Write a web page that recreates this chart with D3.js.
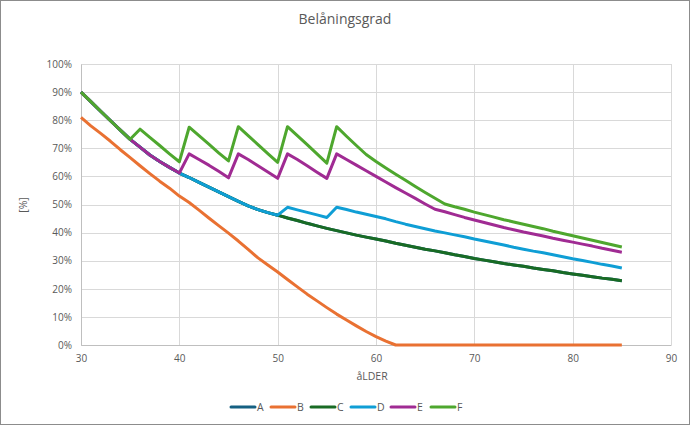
<!DOCTYPE html>
<html>
<head>
<meta charset="utf-8">
<script src="https://cdn.jsdelivr.net/npm/d3@7"></script>
<style>
  body { margin: 0; background: #fff; }
  text { font-family: "Open Sans", "Liberation Sans", sans-serif; fill: #595959; }
</style>
</head>
<body>
<div id="chart"></div>
<script>
// ages 30..85
var ages = d3.range(30, 86);
var xTicks = [30, 40, 50, 60, 70, 80, 90];
var yTicks = [0, 10, 20, 30, 40, 50, 60, 70, 80, 90, 100];
var seriesNames = ["A", "B", "C", "D", "E", "F"];
var colors = ["#156082", "#e97132", "#196b24", "#0f9ed5", "#a02b93", "#4ea72e"];

var seriesA = [90, 86.6, 83.2, 79.8, 76.5, 73.2, 70.4, 67.6, 65.3, 63.2,
  61.2, 59.6, 57.9, 56.2, 54.5, 52.8, 51.1, 49.5, 48.2, 47.1,
  46.2, 45.2, 44.3, 43.3, 42.4, 41.5, 40.7, 39.9, 39.1, 38.4,
  37.7, 37, 36.2, 35.5, 34.8, 34.1, 33.5, 32.8, 32.1, 31.5,
  30.8, 30.2, 29.6, 29, 28.5, 28, 27.4, 26.9, 26.4, 25.8,
  25.3, 24.8, 24.3, 23.8, 23.4, 22.9];
var seriesB = [81, 78, 75.3, 72.5, 69.5, 66.7, 63.8, 61, 58.3, 55.8,
  53, 50.7, 48, 45.2, 42.5, 39.8, 37, 34, 31, 28.5,
  26, 23.3, 20.7, 18.1, 15.7, 13.3, 11, 8.9, 6.8, 4.8,
  3, 1.4, 0, 0, 0, 0, 0, 0, 0, 0,
  0, 0, 0, 0, 0, 0, 0, 0, 0, 0,
  0, 0, 0, 0, 0, 0];
var seriesC = [90, 86.6, 83.2, 79.8, 76.5, 73.2, 70.4, 67.6, 65.3, 63.2,
  61.2, 59.6, 57.9, 56.2, 54.5, 52.8, 51.1, 49.5, 48.2, 47.1,
  46.2, 45.2, 44.3, 43.3, 42.4, 41.5, 40.7, 39.9, 39.1, 38.4,
  37.7, 37, 36.2, 35.5, 34.8, 34.1, 33.5, 32.8, 32.1, 31.5,
  30.8, 30.2, 29.6, 29, 28.5, 28, 27.4, 26.9, 26.4, 25.8,
  25.3, 24.8, 24.3, 23.8, 23.4, 22.9];
var seriesD = [90, 86.6, 83.2, 79.8, 76.5, 73.2, 70.4, 67.6, 65.3, 63.2,
  61.2, 59.6, 57.9, 56.2, 54.5, 52.8, 51.1, 49.5, 48.2, 47.1,
  46.2, 49, 48.1, 47.2, 46.3, 45.4, 49, 48.2, 47.3, 46.5,
  45.7, 44.9, 43.9, 43, 42.2, 41.4, 40.6, 39.9, 39.2, 38.5,
  37.7, 37, 36.3, 35.6, 34.8, 34.1, 33.4, 32.8, 32.1, 31.4,
  30.7, 30.1, 29.4, 28.7, 28.1, 27.4];
var seriesE = [90, 86.6, 83.2, 79.8, 76.5, 73.2, 70.4, 67.6, 65.3, 63.2,
  61.2, 68, 66, 64, 61.8, 59.5, 68, 66, 63.8, 61.6,
  59.3, 68, 66, 63.8, 61.5, 59.3, 68, 66, 64, 62,
  60, 58, 56, 54.1, 52.2, 50.2, 48.3, 47.4, 46.4, 45.4,
  44.5, 43.6, 42.7, 41.8, 41, 40.2, 39.5, 38.8, 38, 37.3,
  36.6, 35.9, 35.2, 34.4, 33.7, 33];
var seriesF = [90, 86.6, 83.2, 79.8, 76.5, 73.2, 76.8, 73.9, 71, 68,
  65.2, 77.5, 74.5, 71.5, 68.4, 65.5, 77.7, 74.5, 71.3, 68.1,
  65, 77.7, 74.5, 71.3, 68, 64.7, 77.7, 74.3, 71, 67.8,
  65.3, 63, 60.8, 58.6, 56.4, 54.3, 52.2, 50.2, 49.2, 48.3,
  47.3, 46.4, 45.5, 44.6, 43.8, 43, 42.2, 41.4, 40.5, 39.7,
  38.9, 38.1, 37.3, 36.5, 35.7, 34.9];

var allSeries = [seriesA, seriesB, seriesC, seriesD, seriesE, seriesF];

var width = 690, height = 425;
var margin = {top: 64, right: 19, bottom: 80, left: 81};
var plotW = width - margin.left - margin.right,
    plotH = height - margin.top - margin.bottom;

var svg = d3.select("#chart").append("svg")
    .attr("width", width)
    .attr("height", height);

svg.append("rect")
    .attr("x", 0.5).attr("y", 0.5)
    .attr("width", width - 1).attr("height", height - 1)
    .attr("fill", "#fff")
    .attr("stroke", "#8c8c8c");

svg.append("text")
    .attr("x", 345).attr("y", 24)
    .attr("text-anchor", "middle")
    .style("font-size", "14px")
    .text("Belåningsgrad");

var g = svg.append("g")
    .attr("transform", "translate(" + margin.left + "," + margin.top + ")");

// Scales
var x = d3.scaleLinear().domain([30, 90]).range([0, plotW]);
var y = d3.scaleLinear().domain([0, 100]).range([plotH, 0]);

// grid
g.selectAll(".hgrid").data(yTicks).enter().append("line")
    .attr("class", "hgrid")
    .attr("x1", 0).attr("x2", plotW)
    .attr("y1", d => Math.round(y(d)) + 0.5).attr("y2", d => Math.round(y(d)) + 0.5)
    .attr("stroke", "#d9d9d9");

g.selectAll(".vgrid").data(xTicks).enter().append("line")
    .attr("class", "vgrid")
    .attr("x1", d => Math.round(x(d)) + 0.5).attr("x2", d => Math.round(x(d)) + 0.5)
    .attr("y1", 0).attr("y2", plotH)
    .attr("stroke", "#d9d9d9");

var xAxis = d3.axisBottom(x).tickValues(xTicks).tickSize(0).tickPadding(10).tickFormat(d3.format("d"));
var yAxis = d3.axisLeft(y).tickValues(yTicks).tickSize(0).tickPadding(9).tickFormat(d => d + "%");

var xg = g.append("g")
    .attr("transform", "translate(0," + plotH + ")")
    .call(xAxis);
var yg = g.append("g").call(yAxis);

[xg, yg].forEach(function (a) {
    a.select(".domain").attr("stroke", "#bfbfbf");
    a.selectAll("text").style("font-size", "10px").attr("fill", "#595959");
});

svg.append("text")
    .attr("x", 372).attr("y", 380)
    .attr("text-anchor", "middle")
    .style("font-size", "10.5px")
    .text("åLDER");

svg.append("text")
    .attr("transform", "translate(27,205) rotate(-90)")
    .attr("text-anchor", "middle")
    .style("font-size", "10.5px")
    .text("[%]");

var line = d3.line()
    .x((d, i) => x(ages[i]))
    .y(d => y(d));

g.selectAll(".series").data(allSeries).enter().append("path")
    .attr("class", "series")
    .attr("d", d => line(d))
    .attr("fill", "none")
    .attr("stroke", (d, i) => colors[i])
    .attr("stroke-width", 3)
    .attr("stroke-linejoin", "round");

// legend
var legend = svg.append("g").attr("transform", "translate(231,407)");
var item = legend.selectAll(".item").data(seriesNames).enter().append("g")
    .attr("class", "item")
    .attr("transform", (d, i) => "translate(" + (i * 40) + ",0)");
item.append("line")
    .attr("x1", 0).attr("x2", 24)
    .attr("stroke", (d, i) => colors[i])
    .attr("stroke-width", 3)
    .attr("stroke-linecap", "round");
item.append("text")
    .attr("x", 26).attr("y", 3.5)
    .style("font-size", "10.5px")
    .text(d => d);
</script>
</body>
</html>
